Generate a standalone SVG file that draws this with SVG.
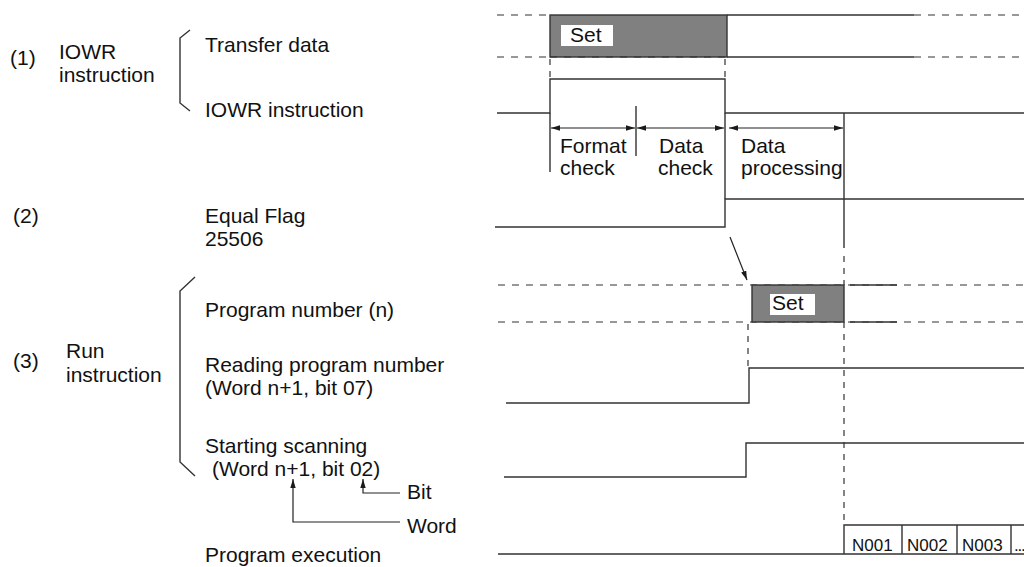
<svg xmlns="http://www.w3.org/2000/svg" width="1024" height="567" viewBox="0 0 1024 567">
<defs>
<marker id="ah" viewBox="0 0 10 6" refX="10" refY="3" markerWidth="9" markerHeight="6" markerUnits="userSpaceOnUse" orient="auto-start-reverse"><path d="M0,0 L10,3 L0,6 z" fill="#1a1a1a"/></marker>
</defs>
<style>
text{font-family:"Liberation Sans",Arial,Helvetica,sans-serif;font-size:21px;fill:#111}
.s{fill:none;stroke:#333;stroke-width:1.4}
.d{fill:none;stroke:#333;stroke-width:1.2;stroke-dasharray:7 7}
.dv{fill:none;stroke:#333;stroke-width:1.2;stroke-dasharray:6 6}
.g{fill:#808080;stroke:#333;stroke-width:1.4}
.w{fill:#fff}
.n{font-size:17px}
.a{fill:none;stroke:#222;stroke-width:1.2}
</style>
<rect x="0" y="0" width="1024" height="567" fill="#fff"/>

<g id="label-1">
<text x="10" y="65">(1)</text>
<text x="59" y="59">IOWR</text>
<text x="59" y="82">instruction</text>
<path class="s" d="M190,30 L180,38 L180,103 L190,111" stroke-width="1"/>
<text x="205" y="52">Transfer data</text>
<text x="205" y="117">IOWR instruction</text>
</g>

<g id="label-2">
<text x="13" y="223">(2)</text>
<text x="205" y="223">Equal Flag</text>
<text x="205" y="246">25506</text>
</g>

<g id="label-3">
<text x="13" y="368">(3)</text>
<text x="66" y="358">Run</text>
<text x="66" y="382">instruction</text>
<path class="s" d="M195,277 L180,291 L180,462 L195,476" stroke-width="1"/>
<text x="205" y="317">Program number (n)</text>
<text x="205" y="372">Reading program number</text>
<text x="205" y="395">(Word n+1, bit 07)</text>
<text x="205" y="453">Starting scanning</text>
<text x="212" y="476">(Word n+1, bit 02)</text>
<text x="407" y="499">Bit</text>
<text x="407" y="533">Word</text>
<text x="205" y="562">Program execution</text>
</g>

<g id="transfer-data">
<path class="d" d="M497,15 H550 M914,15 H1024 M497,57 H550 M914,57 H1024"/>
<rect class="g" x="550" y="15" width="177" height="42"/>
<path class="d" d="M550,57 H727"/>
<path class="s" d="M727,15 H914 M727,57 H914"/>
<rect class="w" x="561" y="25" width="52" height="21"/>
<text x="570" y="42">Set</text>
<path class="dv" d="M550,59 V79 M725,59 V79" stroke-dasharray="4 5"/>
</g>

<g id="iowr-signal">
<path class="s" d="M497,113 H550 V79 H725 V113 H1024"/>
<path class="s" d="M550,113 V172 M636,106 V156 M725,113 V199 M844,113 V248"/>
<text x="560" y="153">Format</text>
<text x="560" y="175">check</text>
<text x="659" y="153">Data</text>
<text x="658" y="175">check</text>
<text x="741" y="153">Data</text>
<text x="741" y="175">processing</text>
</g>

<g id="equal-flag">
<path class="s" d="M495,227 H725 V199 H1024"/>
</g>

<g id="program-number">
<path class="d" d="M498,285 H1024 M498,322 H1024"/>
<rect class="g" x="752" y="285" width="92" height="37"/>
<path class="s" d="M850,285 H897 M850,322 H897"/>
<rect class="w" x="770" y="294" width="45" height="21"/>
<text x="772" y="310">Set</text>
</g>

<g id="reading-signal">
<path class="dv" d="M748,324 V368"/>
<path class="s" d="M506,403 H749 V368 H1024"/>
</g>

<g id="starting-signal">
<path class="s" d="M504,477 H746 V443 H1024"/>
</g>

<g id="program-execution">
<path class="dv" d="M844,256 V285 M844,322 V525"/>
<path class="s" d="M498,554 H1024 M844,554 V525 H1024 M902,525 V554 M957,525 V554 M1011,525 V554"/>
<text class="n" x="852" y="551">N001</text>
<text class="n" x="907" y="551">N002</text>
<text class="n" x="962" y="551">N003</text>
<text class="n" x="1014" y="551" letter-spacing="-1.2">...</text>
</g>

<g id="connectors">
<path class="a" d="M551,128 H635" marker-start="url(#ah)" marker-end="url(#ah)"/>
<path class="a" d="M637,128 H724" marker-start="url(#ah)" marker-end="url(#ah)"/>
<path class="a" d="M729,128 H843" marker-start="url(#ah)" marker-end="url(#ah)"/>
<path class="a" d="M730,237 L747,280" marker-end="url(#ah)"/>
<path class="a" d="M400,493 H363 V479" marker-end="url(#ah)"/>
<path class="a" d="M400,522 H293 V479" marker-end="url(#ah)"/>
</g>
</svg>
